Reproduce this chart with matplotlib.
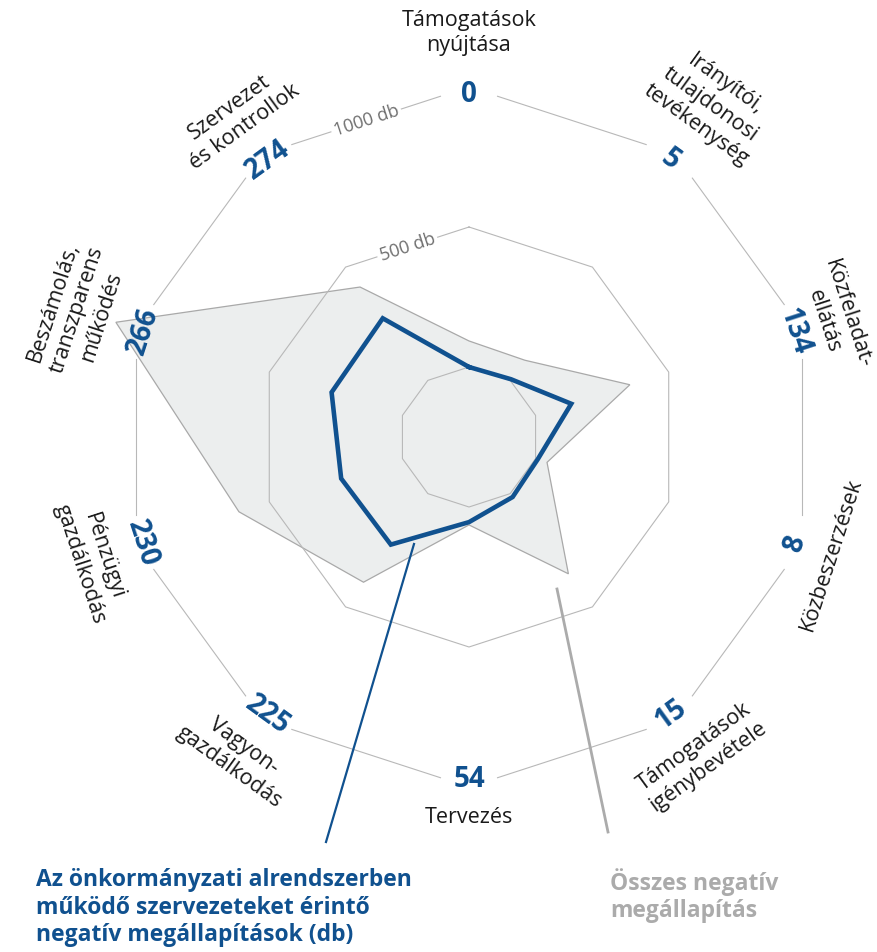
import numpy as np
import matplotlib
matplotlib.use("Agg")
import matplotlib.pyplot as plt
from matplotlib.lines import Line2D

# ---------------- data ----------------
categories = [
    "Támogatások\nnyújtása",
    "Irányítói,\ntulajdonosi\ntevékenység",
    "Közfeladat-\nellátás",
    "Közbeszerzések",
    "Támogatások\nigénybevétele",
    "Tervezés",
    "Vagyon-\ngazdálkodás",
    "Pénzügyi\ngazdálkodás",
    "Beszámolás,\ntranszparens\nműködés",
    "Szervezet\nés kontrollok",
]
onkormanyzati = [0, 5, 134, 8, 15, 54, 225, 230, 266, 274]
osszes = [93, 89, 354, 43, 354, 64, 391, 614, 1076, 412]
ring_values = [0, 500, 1000]
ring_labels = ["", "500 db", "1000 db"]
legend_blue = "Az önkormányzati alrendszerben\nműködő szervezeteket érintő\nnegatív megállapítások (db)"
legend_gray = "Összes negatív\nmegállapítás"

# ---------------- style / layout ----------------
BLUE = "#10518f"
GRAY_FILL = "#eceeee"
GRAY_EDGE = "#a9a9a9"
GRID = "#b8b8b8"
LEG_GRAY = "#ababab"
FONT = ["Open Sans", "DejaVu Sans"]
plt.rcParams["font.family"] = FONT

# extra outward shift (px) of each category label
label_extra = [9, 2, -9, 0, 0, 0, 0, 2, 3, 0]

W, H, DPI = 877, 952, 100
CX, CY = 469, 437          # centre in pixels (from top-left)
PX = 0.28                  # pixels per data unit
R0 = 250                   # radial origin offset (data units)
RMAX = 1100
R = (RMAX + R0) * PX

fig = plt.figure(figsize=(W / DPI, H / DPI), dpi=DPI)
ax = fig.add_axes([(CX - R) / W, 1 - (CY + R) / H, 2 * R / W, 2 * R / H],
                  projection="polar")
ax.set_theta_zero_location("N")
ax.set_theta_direction(-1)
ax.set_ylim(0, RMAX)
ax.set_rorigin(-R0)
ax.set_axis_off()

n = len(categories)
theta = np.arange(n) * 2 * np.pi / n
theta_c = np.append(theta, theta[0])

def px2val(d):
    return d / PX - R0

# gray polygon (total)
ax.fill(theta_c, np.append(osszes, osszes[0]), facecolor=GRAY_FILL,
        edgecolor=GRAY_EDGE, lw=0.9, zorder=1, clip_on=False)

# rings (inner ones full, outer one gapped at the vertices)
for v in ring_values[:-1]:
    ax.plot(theta_c, [v] * (n + 1), color=GRID, lw=0.8, zorder=2, clip_on=False)

gap = 30 / PX
rv = ring_values[-1] + R0
for i in range(n):
    t1, t2 = theta[i], theta[(i + 1) % n]
    p1 = np.array([np.sin(t1), np.cos(t1)]) * rv
    p2 = np.array([np.sin(t2), np.cos(t2)]) * rv
    d = (p2 - p1) / np.linalg.norm(p2 - p1)
    a, b = p1 + d * gap, p2 - d * gap
    ts = [np.arctan2(a[0], a[1]), np.arctan2(b[0], b[1])]
    rs = [np.hypot(*a) - R0, np.hypot(*b) - R0]
    ax.plot(ts, rs, color=GRID, lw=0.8, zorder=2, clip_on=False)

# ring labels at the middle of the edge between first and last axes
half = np.pi / n
for v, lab in zip(ring_values, ring_labels):
    if not lab:
        continue
    rmid = (v + R0) * np.cos(half) - R0
    ax.text(-half, rmid, lab, rotation=np.degrees(half), ha="center",
            va="center", rotation_mode="anchor", fontsize=13, color="#6f6f6f",
            bbox=dict(facecolor="white", edgecolor="none", pad=2),
            zorder=3, clip_on=False)

# blue polygon
ax.plot(theta_c, np.append(onkormanyzati, onkormanyzati[0]), color=BLUE,
        lw=3.3, solid_joinstyle="miter", zorder=4, clip_on=False)

def rot_for(t_deg):
    if 90 < t_deg < 270:
        return 180 - t_deg
    return -t_deg

for i, (t, cat, val) in enumerate(zip(theta, categories, onkormanyzati)):
    td = np.degrees(t)
    rot = rot_for(td)
    ax.text(t, px2val(343), str(val), rotation=rot, rotation_mode="anchor",
            ha="center", va="center", fontsize=20, fontweight="bold",
            color=BLUE, zorder=6, clip_on=False)
    nl = cat.count("\n") + 1
    ax.text(t, px2val(381 + 14 * (nl - 1) + label_extra[i]), cat, rotation=rot,
            rotation_mode="anchor", ha="center", va="center",
            multialignment="center", fontsize=15.5, color="#1a1a1a",
            linespacing=1.25, zorder=6, clip_on=False)

# leader lines + legend texts (figure pixel coordinates)
def fx(x):
    return x / W

def fy(y):
    return 1 - y / H

fig.add_artist(Line2D([fx(414), fx(326)], [fy(544), fy(842)], color=BLUE, lw=1.6))
fig.add_artist(Line2D([fx(557), fx(608)], [fy(589), fy(832)], color=LEG_GRAY, lw=2.0))

fig.text(fx(36), fy(868), legend_blue, ha="left", va="top", fontsize=16.5,
         fontweight="bold", color=BLUE, linespacing=1.2)
fig.text(fx(610), fy(868), legend_gray, ha="left", va="top", fontsize=16.5,
         fontweight="bold", color=LEG_GRAY, linespacing=1.2)

fig.savefig("out.png", dpi=DPI, facecolor="white")
